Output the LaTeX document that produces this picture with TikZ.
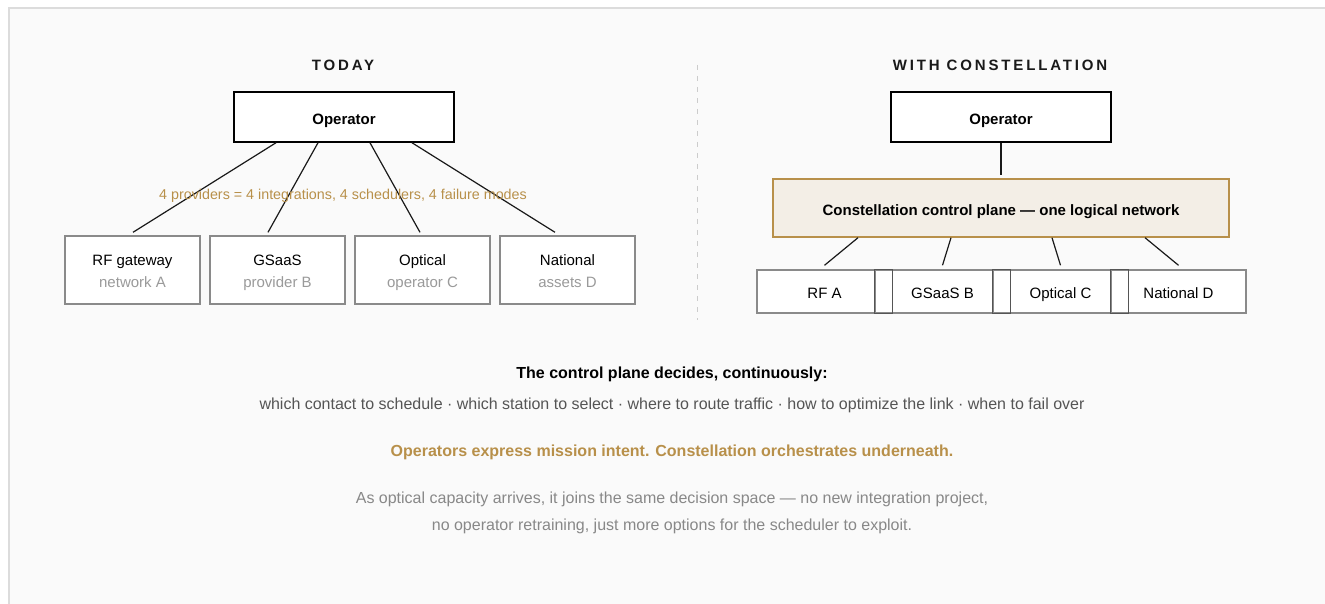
\documentclass[tikz,border=0pt]{standalone}
\usepackage{fontspec}
\setmainfont{Liberation Sans}
\newfontfamily\spacedfont[LetterSpace=19]{Liberation Sans}
\usetikzlibrary{calc}
\definecolor{gold}{HTML}{B8904A}
\definecolor{framegray}{HTML}{DCDCDC}
\definecolor{bggray}{HTML}{FAFAFA}
\definecolor{boxgray}{HTML}{8A8A8A}
\definecolor{subgray}{HTML}{9A9A9A}
\definecolor{planefill}{HTML}{F3EEE6}
\definecolor{midgray}{HTML}{555555}
\definecolor{lightgray2}{HTML}{888888}
\definecolor{divgray}{HTML}{CCCCCC}
\tikzset{
  titletext/.style={anchor=base, inner sep=0pt, font=\spacedfont\bfseries\fontsize{15}{18}\selectfont, text=black!90},
  opbox/.style={draw=black, line width=1.5pt, fill=white, minimum width=220pt, minimum height=50pt, inner sep=0pt, text height=14.6pt, text depth=0pt, font=\bfseries\fontsize{15}{18}\selectfont},
  provbox/.style={draw=boxgray, line width=1.4pt, fill=white, minimum width=135pt, minimum height=68pt, inner sep=0pt},
  provtext/.style={anchor=base, inner sep=0pt, font=\fontsize{15}{18}\selectfont},
  subtext/.style={provtext, text=subgray},
  planebox/.style={draw=gold, line width=1.4pt, fill=planefill, minimum width=456pt, minimum height=58pt, inner sep=0pt, text height=14pt, text depth=0pt, font=\bfseries\fontsize{15}{18}\selectfont},
  netbox/.style={draw=boxgray, line width=1.4pt, fill=white, minimum width=135pt, minimum height=43pt, inner sep=0pt, text height=13.5pt, text depth=0pt, font=\fontsize{15}{18}\selectfont},
  overlapbox/.style={draw=midgray, line width=1.4pt},
  conn/.style={draw=black!90, line width=1.2pt},
  divider/.style={draw=divgray, line width=1pt, dash pattern=on 5pt off 6pt},
  basetext/.style={anchor=base, inner sep=0pt}
}
\begin{document}
\begin{tikzpicture}[x=1pt,y=-1pt]
\useasboundingbox (0,0) rectangle (1325,604);
\fill[white] (0,0) rectangle (1325,604);
\draw[line width=2pt, draw=framegray, fill=bggray] (9,8) rectangle (1345,625);

% ---------- TODAY ----------
\node[titletext] (t1) at (343,71) {TODAY};
\node[opbox] (op1) at (344,117) {Operator};
\node[provbox] (p1) at (132.5,270) {};
\node[provbox] (p2) at (277.5,270) {};
\node[provbox] (p3) at (422.5,270) {};
\node[provbox] (p4) at (567.5,270) {};
\node[provtext] (p1a) at (132.5,265.7) {RF gateway};
\node[subtext]  (p1b) at (132.5,287.3) {network A};
\node[provtext] (p2a) at (277.5,265.7) {GSaaS};
\node[subtext]  (p2b) at (277.5,287.3) {provider B};
\node[provtext] (p3a) at (422.5,265.7) {Optical};
\node[subtext]  (p3b) at (422.5,287.3) {operator C};
\node[provtext] (p4a) at (567.5,265.7) {National};
\node[subtext]  (p4b) at (567.5,287.3) {assets D};
\draw[conn] ([xshift=-68pt]op1.south) -- ([xshift=0.5pt,yshift=3pt]p1.north);
\draw[conn] ([xshift=-26pt]op1.south) -- ([xshift=-9.5pt,yshift=3pt]p2.north);
\draw[conn] ([xshift=26pt]op1.south) -- ([xshift=-2.5pt,yshift=3pt]p3.north);
\draw[conn] ([xshift=68pt]op1.south) -- ([xshift=-12.5pt,yshift=3pt]p4.north);
\node[basetext, text=gold, font=\fontsize{14.3}{17}\selectfont] (lbl) at (343,199.5) {4 providers = 4 integrations, 4 schedulers, 4 failure modes};

% ---------- divider ----------
\coordinate (d1) at (697.5,65);
\coordinate (d2) at (697.5,320);
\draw[divider] (d1) -- (d2);

% ---------- WITH CONSTELLATION ----------
\node[titletext] (t2) at (1000,71) {WITH CONSTELLATION};
\node[opbox] (op2) at (1001,117) {Operator};
\node[planebox] (cp) at (1001,208) {Constellation control plane — one logical network};
\draw[conn] (op2.south) -- ([yshift=3pt]cp.north);
\node[netbox] (b1) at (824.5,291.5) {RF A};
\node[netbox] (b2) at (942.5,291.5) {GSaaS B};
\node[netbox] (b3) at (1060.5,291.5) {Optical C};
\node[netbox] (b4) at (1178.5,291.5) {National D};
\draw[overlapbox] (b2.north west) rectangle (b1.south east);
\draw[overlapbox] (b3.north west) rectangle (b2.south east);
\draw[overlapbox] (b4.north west) rectangle (b3.south east);
\draw[conn] ([xshift=-143pt]cp.south) -- ([yshift=4pt]b1.north);
\draw[conn] ([xshift=-50pt]cp.south) -- ([yshift=4pt]b2.north);
\draw[conn] ([xshift=51pt]cp.south) -- ([yshift=4pt]b3.north);
\draw[conn] ([xshift=144pt]cp.south) -- ([yshift=4pt]b4.north);

% ---------- bottom text ----------
\node[basetext, font=\bfseries\fontsize{16}{19}\selectfont] (h) at (672,378.5) {The control plane decides, continuously:};
\node[basetext, text=midgray, font=\fontsize{16}{19}\selectfont] (dl) at (672,409) {which contact to schedule · which station to select · where to route traffic · how to optimize the link · when to fail over};
\node[basetext, text=gold, font=\bfseries\fontsize{16}{19}\selectfont] (gl) at (672,456) {Operators express mission intent. Constellation orchestrates underneath.};
\node[basetext, text=lightgray2, font=\fontsize{16}{19}\selectfont] (n1) at (672,503.3) {As optical capacity arrives, it joins the same decision space — no new integration project,};
\node[basetext, text=lightgray2, font=\fontsize{16}{19}\selectfont] (n2) at (672,530) {no operator retraining, just more options for the scheduler to exploit.};
\end{tikzpicture}
\end{document}
